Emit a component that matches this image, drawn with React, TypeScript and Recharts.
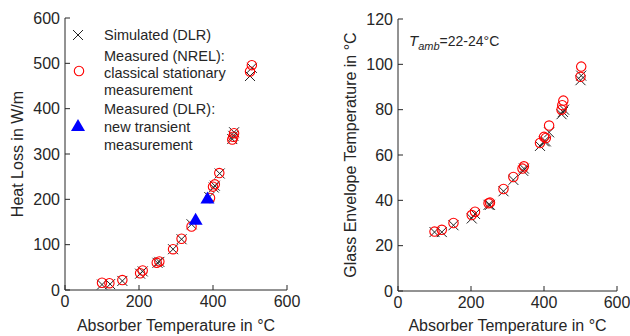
import React from "react";
import { ScatterChart, Scatter, XAxis, YAxis } from "recharts";

// absorber temperature (°C) vs heat loss (W/m)
const simHeatX = [100, 122, 155, 203, 210, 250, 255, 292, 315, 342, 390, 402, 405, 418, 452, 455, 457, 500, 505];
const simHeatY = [12, 13, 20, 36, 41, 60, 62, 90, 112, 145, 205, 226, 230, 257, 333, 340, 348, 472, 490];
const nrelHeatX = [100, 120, 155, 203, 210, 248, 255, 292, 315, 342, 392, 400, 405, 417, 452, 455, 457, 500, 505];
const nrelHeatY = [16, 15, 22, 37, 43, 60, 63, 90, 113, 140, 203, 228, 233, 258, 332, 338, 346, 482, 496];
const dlrHeatX = [353, 385];
const dlrHeatY = [155, 202];

// absorber temperature (°C) vs glass envelope temperature (°C)
const simGlassX = [100, 120, 152, 202, 211, 248, 252, 289, 316, 343, 345, 389, 400, 405, 414, 448, 452, 455, 500, 502];
const simGlassY = [26, 26, 29, 32, 34, 38, 38, 44, 49, 53, 54, 64, 66, 66, 70, 78, 79, 80, 93, 95];
const nrelGlassX = [100, 120, 152, 202, 211, 248, 252, 289, 316, 341, 345, 389, 400, 405, 414, 448, 450, 453, 500, 502];
const nrelGlassY = [26.2, 27, 30, 33.5, 35, 38.7, 39, 45, 50.3, 54, 55, 65.3, 68, 67.5, 73, 80, 82, 84, 94.5, 99];

const xTicks = [0, 200, 400, 600];
const heatTicks = [0, 100, 200, 300, 400, 500, 600];
const glassTicks = [0, 20, 40, 60, 80, 100, 120];

const pts = (xs: number[], ys: number[]) => xs.map((x, i) => ({ x, y: ys[i] }));

const FONT = "'Liberation Sans', Arial, sans-serif";
const INK = "#262626";
const TL = 5;

const Cross = (p: any) => (
  <g stroke="#222" strokeWidth={1}>
    <line x1={p.cx - 5} y1={p.cy - 5} x2={p.cx + 5} y2={p.cy + 5} />
    <line x1={p.cx - 5} y1={p.cy + 5} x2={p.cx + 5} y2={p.cy - 5} />
  </g>
);
const Ring = (p: any) => <circle cx={p.cx} cy={p.cy} r={4.7} fill="none" stroke="#ff0000" strokeWidth={1.1} />;
const Tri = (p: any) => (
  <polygon points={`${p.cx},${p.cy - 7} ${p.cx - 7},${p.cy + 5} ${p.cx + 7},${p.cy + 5}`} fill="#0000ff" />
);

const BottomTick = (p: any) => (
  <g>
    <line x1={p.x} x2={p.x} y1={p.y - 6} y2={p.y - 6 - TL} stroke={INK} />
    <text x={p.x} y={p.y} dy="0.71em" textAnchor="middle" fontSize={16} fill={INK} fontFamily={FONT}>
      {p.payload.value}
    </text>
  </g>
);
const LeftTick = (p: any) => (
  <g>
    <line x1={p.x + 5} x2={p.x + 5 + TL} y1={p.y} y2={p.y} stroke={INK} />
    <text x={p.x} y={p.y} dy="0.355em" textAnchor="end" fontSize={16} fill={INK} fontFamily={FONT}>
      {p.payload.value}
    </text>
  </g>
);
const TopTick = (p: any) => <line x1={p.x} x2={p.x} y1={p.y} y2={p.y + TL} stroke={INK} />;
const RightTick = (p: any) => <line x1={p.x} x2={p.x - TL} y1={p.y} y2={p.y} stroke={INK} />;

function Panel(props: {
  width: number;
  margin: any;
  yWidth: number;
  xHeight: number;
  yMax: number;
  yTicks: number[];
  yLabel: string;
  labelOffset: number;
  children: React.ReactNode;
}) {
  const { width, margin, yWidth, xHeight, yMax, yTicks, yLabel, labelOffset } = props;
  return (
    <ScatterChart width={width} height={336} margin={margin}>
      <XAxis
        xAxisId="b"
        type="number"
        dataKey="x"
        domain={[0, 600]}
        ticks={xTicks}
        interval={0}
        height={xHeight}
        tickSize={0}
        tickMargin={6}
        tick={BottomTick}
        axisLine={{ stroke: INK }}
        label={{ value: "Absorber Temperature in °C", position: "insideBottom", offset: 5, fontSize: 16, fill: INK, fontFamily: FONT }}
      />
      <XAxis
        xAxisId="t"
        orientation="top"
        type="number"
        dataKey="x"
        domain={[0, 600]}
        ticks={xTicks}
        interval={0}
        height={0}
        tickSize={0}
        tickMargin={0}
        tick={TopTick}
        axisLine={{ stroke: INK }}
      />
      <YAxis
        yAxisId="l"
        type="number"
        dataKey="y"
        domain={[0, yMax]}
        ticks={yTicks}
        interval={0}
        width={yWidth}
        tickSize={0}
        tickMargin={5}
        tick={LeftTick}
        axisLine={{ stroke: INK }}
        label={{ value: yLabel, angle: -90, position: "insideLeft", offset: labelOffset, fontSize: 16, fill: INK, fontFamily: FONT, style: { textAnchor: "middle" } }}
      />
      <YAxis
        yAxisId="r"
        orientation="right"
        type="number"
        dataKey="y"
        domain={[0, yMax]}
        ticks={yTicks}
        interval={0}
        width={0}
        tickSize={0}
        tickMargin={0}
        tick={RightTick}
        axisLine={{ stroke: INK }}
      />
      {props.children}
    </ScatterChart>
  );
}

export default function App() {
  const txt = { fontSize: 14.5, fill: INK, fontFamily: FONT } as const;
  return (
    <div style={{ position: "absolute", left: 0, top: 0, width: 630, height: 336, background: "#fff" }}>
      <div style={{ position: "absolute", left: 0, top: 0 }}>
        <Panel width={315} margin={{ top: 18, right: 28, bottom: 0, left: 0 }} yWidth={65} xHeight={46} yMax={600} yTicks={heatTicks} yLabel="Heat Loss in W/m" labelOffset={17}>
          <Scatter xAxisId="b" yAxisId="l" data={pts(simHeatX, simHeatY)} shape={Cross} isAnimationActive={false} />
          <Scatter xAxisId="b" yAxisId="l" data={pts(nrelHeatX, nrelHeatY)} shape={Ring} isAnimationActive={false} />
          <Scatter xAxisId="b" yAxisId="l" data={pts(dlrHeatX, dlrHeatY)} shape={Tri} isAnimationActive={false} />
        </Panel>
        <svg width={240} height={160} style={{ position: "absolute", left: 66, top: 19 }}>
          <Cross cx={12} cy={16} />
          <Ring cx={13} cy={52} />
          <Tri cx={12} cy={107} />
          <text x={38} y={21} {...txt}>Simulated (DLR)</text>
          <text x={38} y={42} {...txt}>Measured (NREL):</text>
          <text x={38} y={59} {...txt}>classical stationary</text>
          <text x={38} y={76} {...txt}>measurement</text>
          <text x={38} y={95} {...txt}>Measured (DLR):</text>
          <text x={38} y={113} {...txt}>new transient</text>
          <text x={38} y={131} {...txt}>measurement</text>
        </svg>
      </div>
      <div style={{ position: "absolute", left: 315, top: 0 }}>
        <Panel width={315} margin={{ top: 19, right: 13, bottom: 0, left: 0 }} yWidth={83} xHeight={45} yMax={120} yTicks={glassTicks} yLabel="Glass Envelope Temperature in °C" labelOffset={35}>
          <Scatter xAxisId="b" yAxisId="l" data={pts(simGlassX, simGlassY)} shape={Cross} isAnimationActive={false} />
          <Scatter xAxisId="b" yAxisId="l" data={pts(nrelGlassX, nrelGlassY)} shape={Ring} isAnimationActive={false} />
        </Panel>
        <div style={{ position: "absolute", left: 94, top: 32, fontFamily: FONT, fontSize: 14, color: INK, whiteSpace: "nowrap" }}>
          <i style={{ fontSize: 15 }}>T</i>
          <i style={{ fontSize: 11, position: "relative", top: 4 }}>amb</i>=22-24°C
        </div>
      </div>
    </div>
  );
}
